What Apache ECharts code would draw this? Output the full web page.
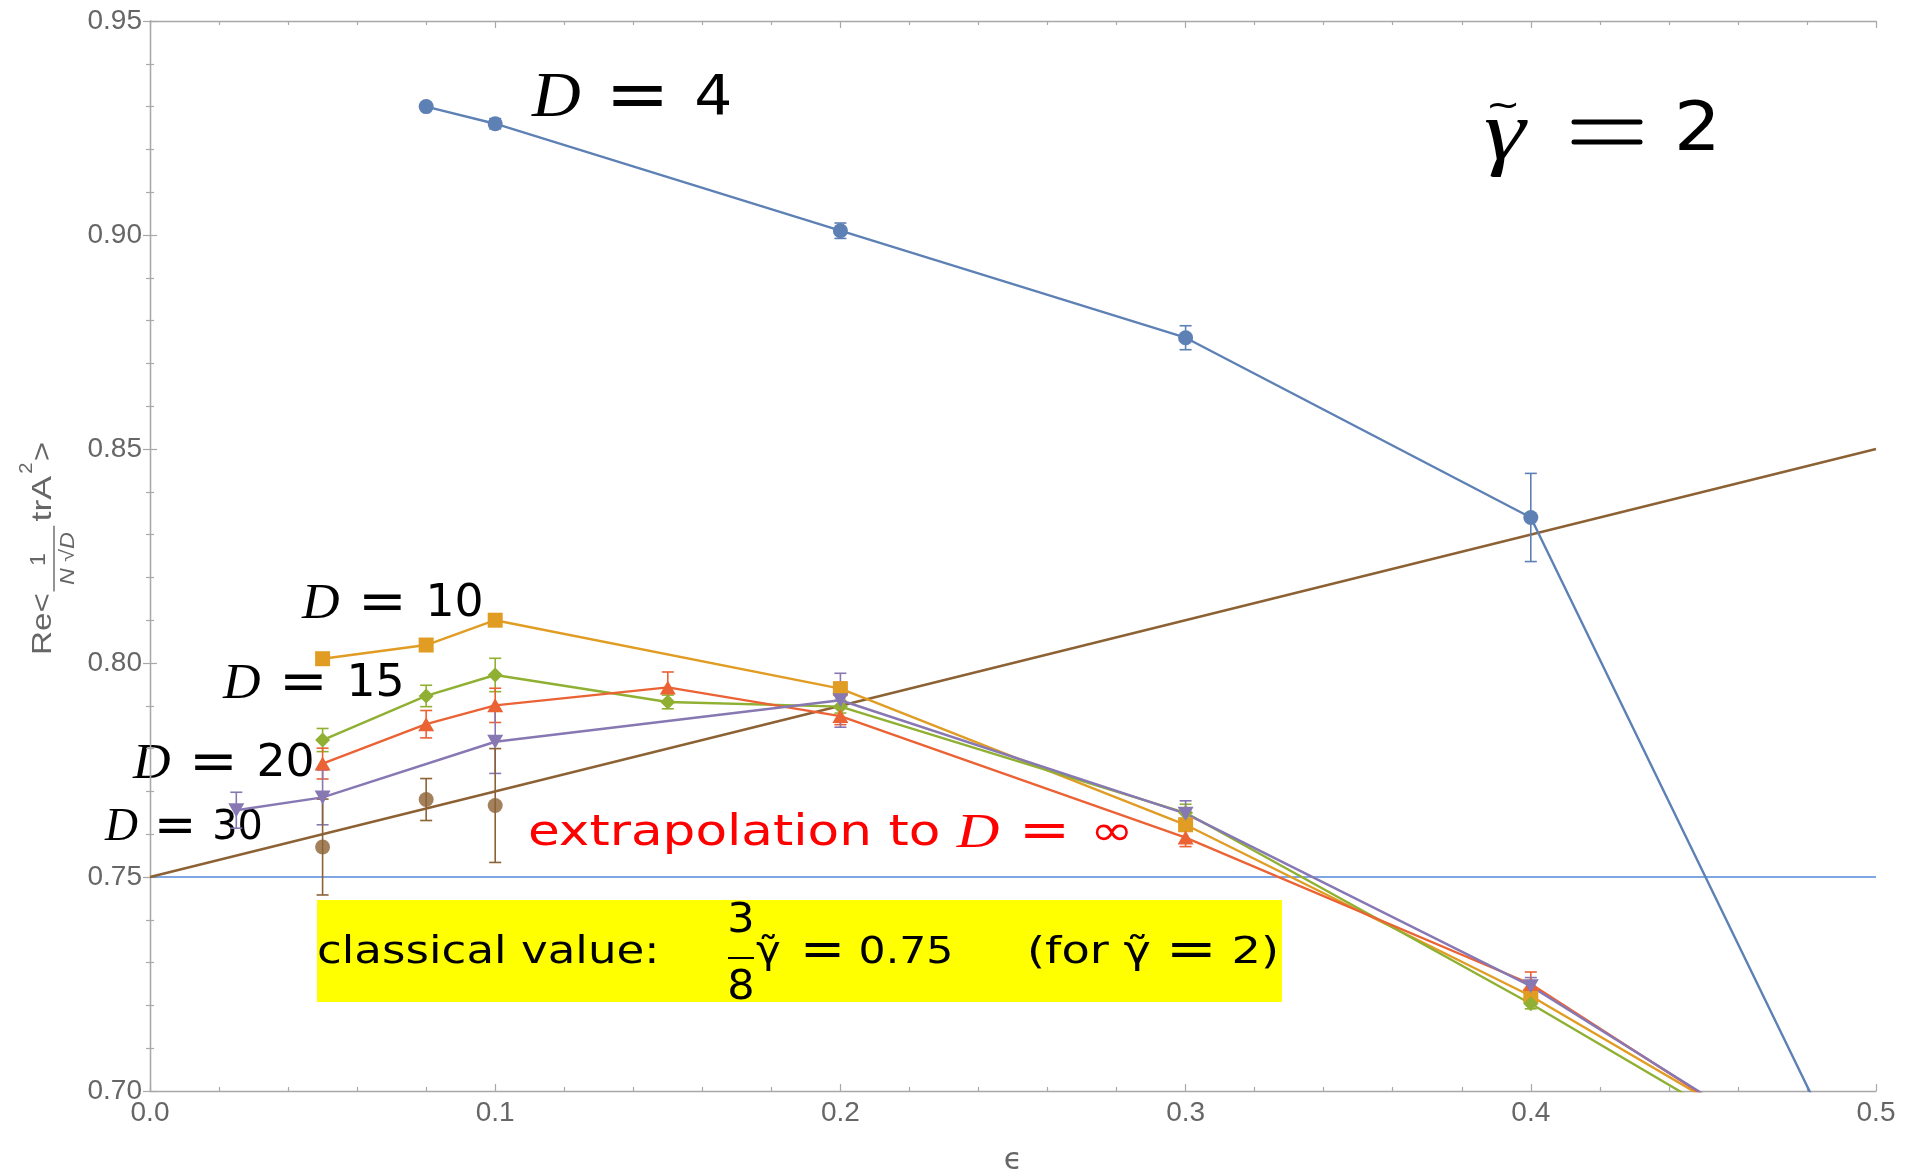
<!DOCTYPE html>
<html>
<head>
<meta charset="utf-8">
<title>Re&lt;trA²&gt; vs epsilon</title>
<script src="https://cdn.jsdelivr.net/npm/echarts@6/dist/echarts.min.js"></script>
<style>
  html, body { margin: 0; padding: 0; background: #ffffff; }
  #chart { width: 1905px; height: 1173px; }
</style>
</head>
<body>
<div id="chart"></div>
<script>
// ---- measured data: epsilon, Re<trA^2/(N sqrt D)>, statistical error ----
const epsD4  = [0.08, 0.1, 0.2, 0.3, 0.4, 0.5];
const valD4  = [0.930, 0.926, 0.901, 0.876, 0.834, 0.668];
const errD4  = [0, 0.0012, 0.0018, 0.0028, 0.0103, 0];

const epsD10 = [0.05, 0.08, 0.1, 0.2, 0.3, 0.4, 0.5];
const valD10 = [0.801, 0.8042, 0.8100, 0.7940, 0.7622, 0.7222, 0.675];
const errD10 = [0.0008, 0.0008, 0.0012, 0.0015, 0.0015, 0.0012, 0];

const epsD15 = [0.05, 0.08, 0.1, 0.15, 0.2, 0.3, 0.4, 0.5];
const valD15 = [0.7820, 0.7923, 0.7972, 0.7909, 0.7898, 0.7650, 0.7204, 0.673];
const errD15 = [0.0027, 0.0025, 0.0039, 0.0016, 0.0015, 0.002, 0.0012, 0];

const epsD20 = [0.05, 0.08, 0.1, 0.15, 0.2, 0.3, 0.4, 0.5];
const valD20 = [0.7765, 0.7857, 0.7901, 0.7943, 0.7876, 0.7592, 0.7250, 0.673];
const errD20 = [0.0036, 0.0032, 0.004, 0.0036, 0.002, 0.0021, 0.0028, 0];

const epsD30 = [0.025, 0.05, 0.1, 0.2, 0.3, 0.4, 0.5];
const valD30 = [0.7656, 0.7686, 0.7816, 0.7913, 0.7648, 0.7245, 0.674];
const errD30 = [0.0042, 0.0064, 0.0074, 0.0063, 0.003, 0.002, 0];

// extrapolation D -> infinity
const epsInf = [0.05, 0.08, 0.1];
const valInf = [0.757, 0.7681, 0.7667];
const errInf = [0.0112, 0.0049, 0.0133];

// straight-line fit through the extrapolated points, and the classical value
const fitEps = [0, 0.5];
const fitVal = [0.75, 0.85];
const classicalEps = [0, 0.5];
const classicalVal = [0.75, 0.75];

// axes
const xMin = 0, xMax = 0.5, xStep = 0.1;
const yMin = 0.70, yMax = 0.95, yStep = 0.05;

const C = {
  d4: '#5E81B5', d10: '#E19C24', d15: '#8FB032', d20: '#EB6235',
  d30: '#8778B3', inf: '#8C6234', classical: '#5588D8', axis: '#a8a8a8', text: '#666666'
};

const pairs = (xs, ys) => xs.map((x, i) => [x, ys[i]]);
const triples = (xs, ys, es) => xs.map((x, i) => [x, ys[i], es[i]]);

function lineSeries(name, xs, ys, color, symbol, size, rotate) {
  return {
    type: 'line', name, data: pairs(xs, ys),
    symbol, symbolSize: size, symbolRotate: rotate || 0, showSymbol: true,
    lineStyle: { color, width: 2.4 },
    itemStyle: { color, borderWidth: 0 },
    clip: true, z: 4, silent: true, emphasis: { disabled: true }
  };
}

function errorSeries(xs, ys, es, color) {
  return {
    type: 'custom', data: triples(xs, ys, es), encode: { x: 0, y: 1 },
    clip: true, z: 3, silent: true,
    renderItem(params, api) {
      const x = api.value(0), y = api.value(1), e = api.value(2);
      if (!e) return null;
      const top = api.coord([x, y + e]);
      const bot = api.coord([x, y - e]);
      const hw = 6;
      const st = { stroke: color, lineWidth: 1.6 };
      return {
        type: 'group',
        children: [
          { type: 'line', shape: { x1: top[0], y1: top[1], x2: bot[0], y2: bot[1] }, style: st },
          { type: 'line', shape: { x1: top[0] - hw, y1: top[1], x2: top[0] + hw, y2: top[1] }, style: st },
          { type: 'line', shape: { x1: bot[0] - hw, y1: bot[1], x2: bot[0] + hw, y2: bot[1] }, style: st }
        ]
      };
    }
  };
}

// "D = n" style labels: italic serif D, wide equals sign, upright digits
function dLabel(x, y, rest, dSize, rSize, eSize, sx) {
  return {
    type: 'text', x, y, scaleX: sx, silent: true,
    style: {
      text: '{d|D}{e| = }{r|' + rest + '}',
      align: 'left', verticalAlign: 'middle',
      rich: {
        d: { fontFamily: 'Liberation Serif', fontStyle: 'italic', fontSize: dSize, fill: '#000' },
        e: { fontFamily: 'DejaVu Sans', fontSize: eSize, fill: '#000' },
        r: { fontFamily: 'DejaVu Sans', fontSize: rSize, fill: '#000' }
      }
    }
  };
}

const axisCommon = {
  type: 'value', min: xMin, max: xMax, interval: xStep,
  axisLine: { show: true, lineStyle: { color: C.axis, width: 1.3 } },
  axisTick: { show: true, inside: true, length: 7, lineStyle: { color: C.axis, width: 1.2 } },
  minorTick: { show: true, splitNumber: 5, length: 4, lineStyle: { color: C.axis, width: 1.2 } },
  splitLine: { show: false }, minorSplitLine: { show: false }
};

const labelStyle = { fontFamily: 'Liberation Sans', fontSize: 28, color: C.text };

const option = {
  animation: false,
  backgroundColor: '#ffffff',
  grid: { left: 150, right: 29, top: 21, bottom: 82, containLabel: false },
  xAxis: [
    Object.assign({}, axisCommon, {
      position: 'bottom',
      axisLabel: Object.assign({ margin: 8, formatter: v => v.toFixed(1) }, labelStyle)
    }),
    Object.assign({}, axisCommon, { position: 'top', axisLabel: { show: false } })
  ],
  yAxis: [
    Object.assign({}, axisCommon, {
      min: yMin, max: yMax, interval: yStep, position: 'left',
      axisLabel: Object.assign({ margin: 8, formatter: v => v.toFixed(2) }, labelStyle)
    }),
    Object.assign({}, axisCommon, {
      min: yMin, max: yMax, interval: yStep, position: 'right', axisLabel: { show: false }
    })
  ],
  series: [
    { type: 'line', data: pairs(classicalEps, classicalVal), symbol: 'none',
      lineStyle: { color: C.classical, width: 1.5 }, z: 2, silent: true, clip: true },
    { type: 'line', data: pairs(fitEps, fitVal), symbol: 'none',
      lineStyle: { color: C.inf, width: 2.4 }, z: 2, silent: true, clip: true },

    errorSeries(epsD4, valD4, errD4, C.d4),
    errorSeries(epsD10, valD10, errD10, C.d10),
    errorSeries(epsD15, valD15, errD15, C.d15),
    errorSeries(epsD20, valD20, errD20, C.d20),
    errorSeries(epsD30, valD30, errD30, C.d30),
    errorSeries(epsInf, valInf, errInf, C.inf),

    lineSeries('D=4', epsD4, valD4, C.d4, 'circle', 15),
    lineSeries('D=10', epsD10, valD10, C.d10, 'rect', 15),
    lineSeries('D=15', epsD15, valD15, C.d15, 'diamond', [15, 15]),
    lineSeries('D=20', epsD20, valD20, C.d20, 'triangle', [16, 14]),
    lineSeries('D=30', epsD30, valD30, C.d30, 'triangle', [16, 14], 180),
    { type: 'scatter', name: 'D=inf', data: pairs(epsInf, valInf), symbol: 'circle', symbolSize: 15,
      itemStyle: { color: C.inf }, z: 4, silent: true, clip: true }
  ],
  graphic: [
    // y-axis title: Re< 1/(N sqrt D) trA^2 >
    {
      type: 'group', x: 53, y: 655, rotation: Math.PI / 2, scaleX: 1.06, silent: true,
      children: [
        { type: 'text', x: 0, y: -10, scaleX: 1.12,
          style: { text: 'Re<', fontFamily: 'Liberation Sans', fontSize: 28, fill: C.text, verticalAlign: 'middle' } },
        { type: 'text', x: 90, y: -14,
          style: { text: '1', fontFamily: 'Liberation Sans', fontSize: 22, fill: C.text, align: 'center', verticalAlign: 'middle' } },
        { type: 'line', shape: { x1: 60, y1: 1, x2: 122, y2: 1 }, style: { stroke: C.text, lineWidth: 1.4 } },
        { type: 'text', x: 91, y: 15, scaleX: 1.1,
          style: {
            text: '{i|N} √{i|D}', fontFamily: 'Liberation Sans', fontSize: 20, fill: C.text,
            align: 'center', verticalAlign: 'middle',
            rich: { i: { fontFamily: 'Liberation Sans', fontStyle: 'italic', fontSize: 20, fill: C.text } }
          } },
        { type: 'text', x: 126, y: -10, scaleX: 1.2,
          style: { text: 'trA', fontFamily: 'Liberation Sans', fontSize: 28, fill: C.text, verticalAlign: 'middle' } },
        { type: 'text', x: 171, y: -26,
          style: { text: '2', fontFamily: 'Liberation Sans', fontSize: 19, fill: C.text, verticalAlign: 'middle' } },
        { type: 'text', x: 183, y: -10, scaleX: 1.1,
          style: { text: '>', fontFamily: 'Liberation Sans', fontSize: 28, fill: C.text, verticalAlign: 'middle' } }
      ]
    },
    // x-axis title
    { type: 'text', x: 1013, y: 1161, silent: true,
      style: { text: 'ϵ', fontFamily: 'DejaVu Sans', fontSize: 30, fill: C.text, align: 'center', verticalAlign: 'middle' } },

    // series labels
    dLabel(532, 99, '4', 63, 56, 72, 1.07),
    dLabel(302, 605, '10', 50, 44, 56, 1.04),
    dLabel(223, 685, '15', 50, 44, 56, 1.04),
    dLabel(133, 765, '20', 50, 44, 56, 1.04),
    dLabel(105, 828, '30', 47, 41, 52, 0.97),

    // gamma-tilde = 2
    { type: 'text', x: 1484, y: 137, scaleX: 1.25, silent: true,
      style: { text: 'γ', fontFamily: 'Liberation Serif', fontStyle: 'italic', fontSize: 84, fill: '#000', verticalAlign: 'middle' } },
    { type: 'text', x: 1503, y: 108, scaleX: 1.15, silent: true,
      style: { text: '~', fontFamily: 'DejaVu Sans', fontSize: 36, fill: '#000', align: 'center', verticalAlign: 'middle' } },
    { type: 'line', shape: { x1: 1574, y1: 122, x2: 1640, y2: 122 }, style: { stroke: '#000', lineWidth: 5, lineCap: 'round' }, silent: true },
    { type: 'line', shape: { x1: 1574, y1: 142, x2: 1640, y2: 142 }, style: { stroke: '#000', lineWidth: 5, lineCap: 'round' }, silent: true },
    { type: 'text', x: 1674, y: 132, scaleX: 1.08, silent: true,
      style: { text: '2', fontFamily: 'DejaVu Sans', fontSize: 68, fill: '#000', verticalAlign: 'middle' } },

    // extrapolation note
    {
      type: 'text', x: 528, y: 834, scaleX: 1.23, silent: true,
      style: {
        text: '{t|extrapolation to }{d|D}{e| = }{t|∞}', align: 'left', verticalAlign: 'middle',
        rich: {
          t: { fontFamily: 'DejaVu Sans', fontSize: 42, fill: '#ff0000' },
          e: { fontFamily: 'DejaVu Sans', fontSize: 50, fill: '#ff0000' },
          d: { fontFamily: 'Liberation Serif', fontStyle: 'italic', fontSize: 48, fill: '#ff0000' }
        }
      }
    },

    // classical value box
    { type: 'rect', shape: { x: 317, y: 900, width: 965, height: 102 }, style: { fill: '#ffff00' }, silent: true },
    { type: 'text', x: 317, y: 953, scaleX: 1.22, silent: true,
      style: { text: 'classical value:', fontFamily: 'DejaVu Sans', fontSize: 37, fill: '#000', verticalAlign: 'middle' } },
    { type: 'text', x: 741, y: 921, scaleX: 1.05, silent: true,
      style: { text: '3', fontFamily: 'DejaVu Sans', fontSize: 41, fill: '#000', align: 'center', verticalAlign: 'middle' } },
    { type: 'line', shape: { x1: 728, y1: 958, x2: 754, y2: 958 }, style: { stroke: '#000', lineWidth: 2 }, silent: true },
    { type: 'text', x: 741, y: 988, scaleX: 1.05, silent: true,
      style: { text: '8', fontFamily: 'DejaVu Sans', fontSize: 41, fill: '#000', align: 'center', verticalAlign: 'middle' } },
    { type: 'text', x: 756, y: 953, scaleX: 1.1, silent: true,
      style: { text: 'γ\u0303', fontFamily: 'DejaVu Sans', fontSize: 38, fill: '#000', verticalAlign: 'middle' } },
    { type: 'text', x: 800, y: 953, scaleX: 1.12, silent: true,
      style: {
        text: '{e|=}{n| 0.75}', verticalAlign: 'middle',
        rich: {
          e: { fontFamily: 'DejaVu Sans', fontSize: 48, fill: '#000' },
          n: { fontFamily: 'DejaVu Sans', fontSize: 38, fill: '#000' }
        }
      } },
    { type: 'text', x: 1027, y: 953, scaleX: 1.22, silent: true,
      style: {
        text: '{n|(for γ\u0303 }{e|=}{n| 2)}', verticalAlign: 'middle',
        rich: {
          e: { fontFamily: 'DejaVu Sans', fontSize: 50, fill: '#000' },
          n: { fontFamily: 'DejaVu Sans', fontSize: 38, fill: '#000' }
        }
      } }
  ]
};

const chart = echarts.init(document.getElementById('chart'), null, { renderer: 'canvas' });
chart.setOption(option);
</script>
</body>
</html>
